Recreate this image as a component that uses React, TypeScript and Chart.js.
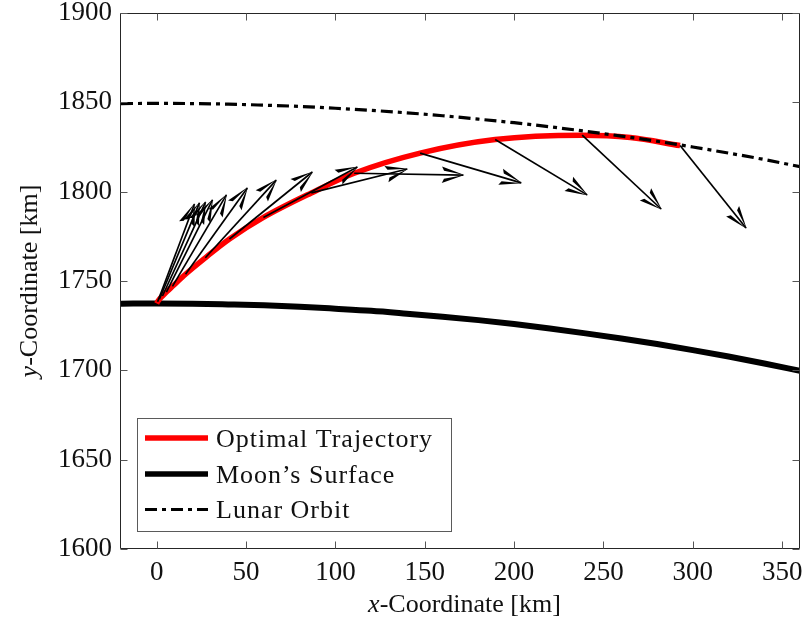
import { useEffect, useRef } from "react";
import { Chart, registerables } from "chart.js";

Chart.register(...registerables);

const FONT = "'Liberation Serif', 'Times New Roman', serif";

// Axis ranges and ticks
const X_MIN = -20;
const X_MAX = 360;
const Y_MIN = 1600;
const Y_MAX = 1900;
const xTickValues = [0, 50, 100, 150, 200, 250, 300, 350];
const yTickValues = [1600, 1650, 1700, 1750, 1800, 1850, 1900];

// Moon's surface (km)
const surfaceX = [-20, 0, 20, 40, 60, 80, 100, 120, 140, 160, 180, 200, 220, 240, 260, 280, 300, 320, 340, 360];
const surfaceY = [1737.3, 1737.4, 1737.3, 1736.9, 1736.4, 1735.6, 1734.5, 1733.3, 1731.7, 1730.0, 1728.1, 1725.9, 1723.4, 1720.7, 1717.8, 1714.7, 1711.3, 1707.7, 1703.8, 1699.7];

// Lunar orbit (km)
const orbitX = [-20, 0, 20, 40, 60, 80, 100, 120, 140, 160, 180, 200, 220, 240, 260, 280, 300, 320, 340, 360];
const orbitY = [1849.3, 1849.4, 1849.3, 1849.0, 1848.4, 1847.7, 1846.7, 1845.5, 1844.1, 1842.5, 1840.6, 1838.6, 1836.3, 1833.8, 1831.1, 1828.2, 1825.0, 1821.6, 1818.0, 1814.0];

// Optimal trajectory (km)
const trajX = [0, 0.5, 1.5, 3.2, 5.4, 8.8, 16.1, 27.2, 40.7, 59.7, 86.5, 110.5, 147.4, 189.4, 238.1, 265, 292.9];
const trajY = [1737.4, 1738.4, 1739.8, 1741.6, 1743.8, 1747.0, 1753.8, 1763.0, 1773.5, 1785.6, 1799.3, 1810.3, 1821.6, 1829.2, 1831.6, 1830.3, 1825.8];

// Thrust-direction arrows: tails and tips (km)
const arrowTailX = [0.5, 1.5, 3.2, 5.4, 8.8, 16.1, 27.2, 40.7, 59.7, 86.5, 110.5, 147.4, 189.4, 238.1, 292.9];
const arrowTailY = [1738.4, 1739.8, 1741.6, 1743.8, 1747.0, 1753.8, 1763.0, 1773.5, 1785.6, 1799.3, 1810.3, 1821.6, 1829.2, 1831.6, 1825.8];
const arrowTipX = [21.1, 23.9, 27.3, 31.2, 39.0, 50.7, 66.9, 87.1, 112.3, 140.2, 171.6, 204.0, 240.9, 282.3, 329.8];
const arrowTipY = [1793.1, 1793.7, 1794.2, 1795.4, 1798.2, 1802.1, 1806.5, 1811.0, 1813.8, 1812.7, 1809.3, 1804.9, 1798.2, 1790.3, 1779.7];

const legendLabels = ["Optimal Trajectory", "Moon\u2019s Surface", "Lunar Orbit"];

const ORBIT_DASH = [12, 5, 4, 5];

function toPoints(xs: number[], ys: number[]) {
  return xs.map((x, i) => ({ x, y: ys[i] }));
}

function zeroPadding(s: any) {
  s.paddingLeft = 0;
  s.paddingRight = 0;
  s.paddingTop = 0;
  s.paddingBottom = 0;
}

export default function App() {
  const ref = useRef<HTMLCanvasElement>(null);

  useEffect(() => {
    const canvas = ref.current;
    if (!canvas) return;

    const arrowDatasets = arrowTailX.map((x0, i) => ({
      label: "arrow" + i,
      data: [
        { x: x0, y: arrowTailY[i] },
        { x: arrowTipX[i], y: arrowTipY[i] },
      ],
      borderColor: "#000000",
      borderWidth: 1.7,
      pointRadius: 0,
      showLine: true,
      tension: 0,
      order: 0,
      clip: 0,
    }));

    const overlay = {
      id: "overlay",
      afterDatasetsDraw(chart: any) {
        const ctx = chart.ctx as CanvasRenderingContext2D;
        const xs = chart.scales.x;
        const ys = chart.scales.y;
        const area = chart.chartArea;
        ctx.save();
        ctx.beginPath();
        ctx.rect(area.left, area.top, area.right - area.left, area.bottom - area.top);
        ctx.clip();
        ctx.fillStyle = "#000000";
        for (let i = 0; i < arrowTailX.length; i++) {
          const x0 = xs.getPixelForValue(arrowTailX[i]);
          const y0 = ys.getPixelForValue(arrowTailY[i]);
          const x1 = xs.getPixelForValue(arrowTipX[i]);
          const y1 = ys.getPixelForValue(arrowTipY[i]);
          const ang = Math.atan2(y1 - y0, x1 - x0);
          const L = 23;
          const half = 0.37;
          // each barb is a tapered wedge from the tip
          [1, -1].forEach((sgn) => {
            const a1 = ang + sgn * half;
            const a2 = ang + sgn * half * 0.55;
            const px = x1 - L * Math.cos(a1);
            const py = y1 - L * Math.sin(a1);
            const qx = x1 - L * 0.86 * Math.cos(a2);
            const qy = y1 - L * 0.86 * Math.sin(a2);
            ctx.beginPath();
            ctx.moveTo(x1 + 1 * Math.cos(ang), y1 + 1 * Math.sin(ang));
            ctx.lineTo(px, py);
            ctx.lineTo(qx, qy);
            ctx.closePath();
            ctx.fill();
          });
        }
        ctx.restore();
      },
      afterDraw(chart: any) {
        const ctx = chart.ctx as CanvasRenderingContext2D;
        const xs = chart.scales.x;
        const ys = chart.scales.y;
        const a = chart.chartArea;
        const L = Math.round(a.left) - 0.5;
        const R = Math.round(a.right) - 0.5;
        const T = Math.round(a.top) + 0.5;
        const B = Math.round(a.bottom) - 0.5;
        ctx.save();
        // frame
        ctx.strokeStyle = "#262626";
        ctx.lineWidth = 1;
        ctx.beginPath();
        ctx.rect(L, T, R - L, B - T);
        ctx.stroke();
        // inward ticks
        const TL = 7;
        ctx.strokeStyle = "#555555";
        ctx.beginPath();
        xTickValues.forEach((v) => {
          const px = Math.round(xs.getPixelForValue(v)) + 0.5;
          ctx.moveTo(px, B);
          ctx.lineTo(px, B - TL);
          ctx.moveTo(px, T);
          ctx.lineTo(px, T + TL);
        });
        yTickValues.forEach((v) => {
          const py = Math.round(ys.getPixelForValue(v)) + 0.5;
          ctx.moveTo(L, py);
          ctx.lineTo(L + TL, py);
          ctx.moveTo(R, py);
          ctx.lineTo(R - TL, py);
        });
        ctx.stroke();

        // legend
        const lx0 = 137.5, ly0 = 418.5, lx1 = 451.5, ly1 = 531.5;
        ctx.fillStyle = "#ffffff";
        ctx.fillRect(lx0, ly0, lx1 - lx0, ly1 - ly0);
        ctx.strokeStyle = "#5a5a5a";
        ctx.lineWidth = 1;
        ctx.strokeRect(lx0, ly0, lx1 - lx0, ly1 - ly0);
        const rowY = [438, 474, 509.5];
        const baseY = [446.5, 482.5, 518];
        const styles = [
          { color: "#ff0000", width: 5.5, dash: [] as number[] },
          { color: "#000000", width: 5.5, dash: [] as number[] },
          { color: "#000000", width: 3.2, dash: ORBIT_DASH },
        ];
        styles.forEach((s, i) => {
          ctx.beginPath();
          ctx.strokeStyle = s.color;
          ctx.lineWidth = s.width;
          ctx.setLineDash(s.dash);
          ctx.moveTo(145, rowY[i]);
          ctx.lineTo(208, rowY[i]);
          ctx.stroke();
        });
        ctx.setLineDash([]);
        ctx.fillStyle = "#111111";
        ctx.font = `26px ${FONT}`;
        (ctx as any).letterSpacing = "1px";
        ctx.textAlign = "left";
        ctx.textBaseline = "alphabetic";
        legendLabels.forEach((t, i) => ctx.fillText(t, 216, baseY[i]));
        (ctx as any).letterSpacing = "0px";

        // axis titles
        const titleSize = 26;
        const drawTitle = (cx: number, cy: number, rot: number, v: string) => {
          ctx.save();
          ctx.translate(cx, cy);
          ctx.rotate(rot);
          ctx.font = `italic ${titleSize}px ${FONT}`;
          const w1 = ctx.measureText(v).width;
          ctx.font = `${titleSize}px ${FONT}`;
          const rest = "-Coordinate [km]";
          const w2 = ctx.measureText(rest).width;
          const start = -(w1 + w2) / 2;
          ctx.textAlign = "left";
          ctx.textBaseline = "middle";
          ctx.font = `italic ${titleSize}px ${FONT}`;
          ctx.fillText(v, start, 0);
          ctx.font = `${titleSize}px ${FONT}`;
          ctx.fillText(rest, start + w1, 0);
          ctx.restore();
        };
        const midX = (a.left + a.right) / 2;
        const midY = (a.top + a.bottom) / 2;
        ctx.fillStyle = "#111111";
        drawTitle(midX + 4, 605, 0, "x");
        drawTitle(30, midY, -Math.PI / 2, "y");
        ctx.restore();
      },
    };

    const chart = new Chart(canvas, {
      type: "scatter",
      data: {
        datasets: [
          ...arrowDatasets,
          {
            label: "Lunar Orbit",
            data: toPoints(orbitX, orbitY),
            borderColor: "#000000",
            borderWidth: 3.2,
            borderDash: ORBIT_DASH,
            pointRadius: 0,
            showLine: true,
            cubicInterpolationMode: "monotone",
            order: 1,
            clip: 0,
          },
          {
            label: "Optimal Trajectory",
            data: toPoints(trajX, trajY),
            borderColor: "#ff0000",
            borderWidth: 5.5,
            pointRadius: 0,
            showLine: true,
            cubicInterpolationMode: "monotone",
            order: 2,
            clip: 0,
          },
          {
            label: "Moon's Surface",
            data: toPoints(surfaceX, surfaceY),
            borderColor: "#000000",
            borderWidth: 6,
            pointRadius: 0,
            showLine: true,
            cubicInterpolationMode: "monotone",
            order: 3,
            clip: 0,
          },
        ] as any,
      },
      options: {
        animation: false,
        responsive: true,
        maintainAspectRatio: false,
        events: [],
        layout: { padding: { left: 0, top: 13, right: 5, bottom: 0 } },
        plugins: {
          legend: { display: false },
          tooltip: { enabled: false },
        },
        scales: {
          x: {
            type: "linear",
            min: X_MIN,
            max: X_MAX,
            afterBuildTicks: (s: any) => {
              s.ticks = xTickValues.map((v) => ({ value: v }));
            },
            afterFit: (s: any) => {
              s.height = 89;
              zeroPadding(s);
            },
            grid: { display: false, drawTicks: false },
            border: { display: false },
            ticks: {
              font: { family: FONT, size: 27 },
              color: "#111111",
              padding: 8,
              maxRotation: 0,
              autoSkip: false,
              callback: (v: any) => String(v),
            },
          },
          y: {
            type: "linear",
            min: Y_MIN,
            max: Y_MAX,
            afterBuildTicks: (s: any) => {
              s.ticks = yTickValues.map((v) => ({ value: v }));
            },
            afterFit: (s: any) => {
              s.width = 121;
              zeroPadding(s);
            },
            grid: { display: false, drawTicks: false },
            border: { display: false },
            ticks: {
              font: { family: FONT, size: 27 },
              color: "#111111",
              padding: 9,
              autoSkip: false,
              callback: (v: any) => String(v),
            },
          },
        },
      },
      plugins: [overlay],
    });

    return () => chart.destroy();
  }, []);

  return (
    <div style={{ position: "absolute", left: 0, top: 0, width: 805, height: 638, background: "#ffffff" }}>
      <canvas ref={ref} />
    </div>
  );
}
